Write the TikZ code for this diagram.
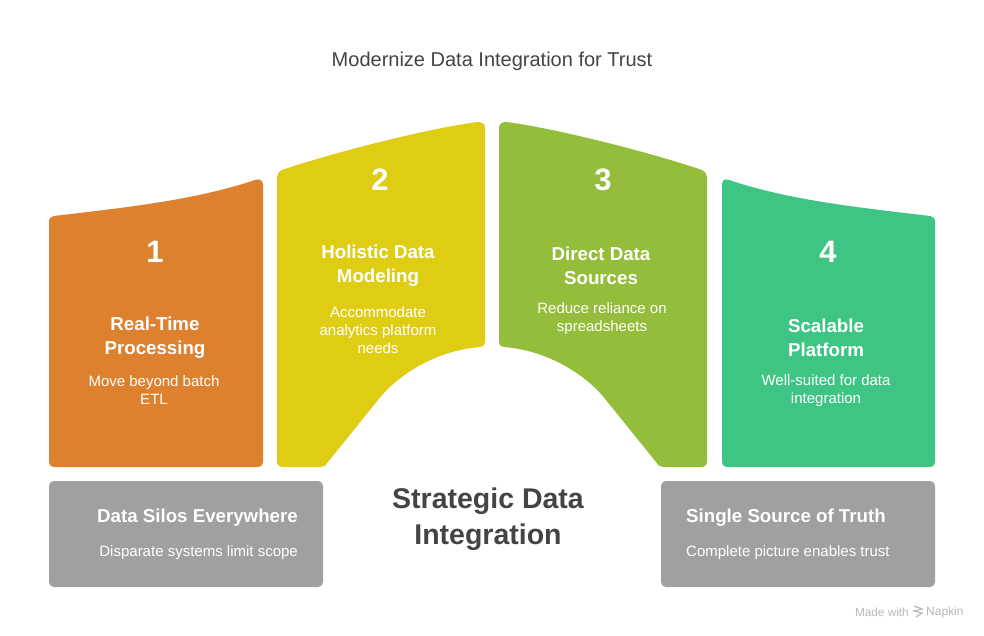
\documentclass[tikz,border=0pt]{standalone}
\usepackage{fontspec}
\setmainfont{Liberation Sans}
\definecolor{cardorange}{HTML}{DD812F}
\definecolor{cardyellow}{HTML}{DFCD14}
\definecolor{cardolive}{HTML}{93BD3A}
\definecolor{cardteal}{HTML}{3EC583}
\definecolor{boxgrey}{HTML}{A0A0A0}
\definecolor{inkgrey}{HTML}{444444}
\definecolor{markgrey}{HTML}{B9B9B9}
\begin{document}
\begin{tikzpicture}[x=1pt,y=-1pt]
  \tikzstyle{numnode}=[text=white, font=\fontsize{31}{36}\selectfont\bfseries]
  \tikzstyle{headnode}=[text=white, align=center, font=\fontsize{18.7}{24}\selectfont\bfseries]
  \tikzstyle{textnode}=[text=white, align=center, font=\fontsize{15}{18}\selectfont]
  \tikzstyle{boxnode}=[fill=boxgrey, rounded corners=5pt, minimum width=274pt, minimum height=106pt, inner sep=0pt]
  \useasboundingbox (0,0) rectangle (984,636);
  \fill[white] (0,0) rectangle (984,636);
  \fill[cardorange] (49,222) .. controls (49,218) and (51,216.5) .. (54,216)
    .. controls (130,207) and (195,200) .. (255,180) .. controls (260,178) and (263,181) .. (263,185)
    -- (263,461) .. controls (263,465) and (261,467) .. (257,467) -- (55,467)
    .. controls (51,467) and (49,465) .. (49,461) -- cycle;
  \fill[cardyellow] (277,177) .. controls (277,174) and (279,172) .. (282,170)
    .. controls (335,152) and (430,128) .. (478,122) .. controls (482,122) and (485,124) .. (485,128)
    -- (485,341) .. controls (485,345) and (483,347) .. (480,347)
    .. controls (440,350) and (400,372) .. (378,400) -- (328,462)
    .. controls (326,465) and (324,467) .. (321,467) -- (283,467)
    .. controls (279,467) and (277,465) .. (277,461) -- cycle;
  \fill[cardolive] (707,177) .. controls (707,174) and (705,172) .. (702,170)
    .. controls (649,152) and (554,128) .. (506,122) .. controls (502,122) and (499,124) .. (499,128)
    -- (499,341) .. controls (499,345) and (501,347) .. (504,347)
    .. controls (544,350) and (584,372) .. (606,400) -- (656,462)
    .. controls (658,465) and (660,467) .. (663,467) -- (701,467)
    .. controls (705,467) and (707,465) .. (707,461) -- cycle;
  \fill[cardteal] (935,222) .. controls (935,218) and (933,216.5) .. (930,216)
    .. controls (854,207) and (789,200) .. (729,180) .. controls (724,178) and (722,181) .. (722,185)
    -- (722,461) .. controls (722,465) and (724,467) .. (728,467) -- (929,467)
    .. controls (933,467) and (935,465) .. (935,461) -- cycle;
  \node[text=inkgrey, font=\fontsize{20}{24}\selectfont] (chart title) at (492,61.5) {Modernize Data Integration for Trust};
  \node[numnode] (num 1) at (155,252) {1};
  \node[headnode] (head 1) at (155,338) {Real-Time\\Processing};
  \node[textnode] (text 1) at (154,390) {Move beyond batch\\ETL};
  \node[numnode] (num 2) at (380,180) {2};
  \node[headnode] (head 2) at (378,266) {Holistic Data\\Modeling};
  \node[textnode] (text 2) at (378,330) {Accommodate\\analytics platform\\needs};
  \node[numnode] (num 3) at (603,180) {3};
  \node[headnode] (head 3) at (601,266) {Direct Data\\Sources};
  \node[textnode] (text 3) at (602,319) {Reduce reliance on\\spreadsheets};
  \node[numnode] (num 4) at (828,252) {4};
  \node[headnode] (head 4) at (826,338) {Scalable\\Platform};
  \node[textnode] (text 4) at (826,391) {Well-suited for data\\integration};
  \node[boxnode] (left box) at (186,534) {};
  \node[boxnode] (right box) at (798,534) {};
  \node[headnode, anchor=east, inner sep=0pt] (left head) at (298,518) {Data Silos Everywhere};
  \node[textnode, anchor=east, inner sep=0pt] (left text) at (298,553) {Disparate systems limit scope};
  \node[headnode, anchor=west, inner sep=0pt] (right head) at (686,518) {Single Source of Truth};
  \node[textnode, anchor=west, inner sep=0pt] (right text) at (686,553) {Complete picture enables trust};
  \node[text=inkgrey, align=center, font=\fontsize{28.5}{36}\selectfont\bfseries] (center title) at (488,519) {Strategic Data\\Integration};
  \node[text=markgrey, anchor=east, inner sep=0pt, font=\fontsize{11.8}{13}\selectfont] (made with) at (909,612) {Made with};
  \node[text=markgrey, anchor=west, inner sep=0pt, font=\fontsize{12}{13}\selectfont] (napkin) at (926,612) {Napkin};
  \draw[markgrey, line width=1.2pt] (914,606) -- (922,609) -- (914,611) -- (922,613) -- (916,617);
\end{tikzpicture}
\end{document}
